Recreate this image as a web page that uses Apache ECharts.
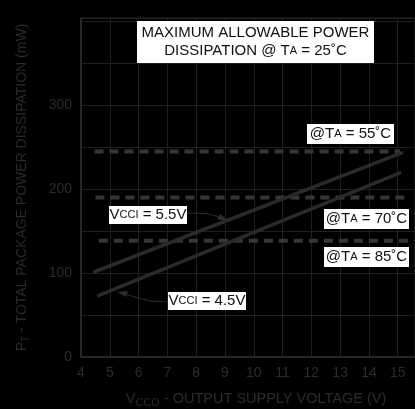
<!DOCTYPE html>
<html><head><meta charset="utf-8">
<script src="https://cdn.jsdelivr.net/npm/echarts@6/dist/echarts.min.js"></script>
<style>html,body{margin:0;padding:0;background:#000;}#c{width:415px;height:409px;}</style>
</head><body><div id="c"></div>
<script>
// Data
var xTicks = [4,5,6,7,8,9,10,11,12,13,14,15];
var yTicks = [0,100,200,300];
var vcci55X = [4.43, 15.18];
var vcci55Y = [101, 244];
var vcci45X = [4.56, 15.12];
var vcci45Y = [72.6, 220];
var ta55X = [4.47, 15.08];
var ta55Y = [245, 245];
var ta70X = [4.5, 15.36];
var ta70Y = [190, 190];
var ta85X = [4.62, 15.4];
var ta85Y = [138.5, 138.5];

function pairs(xs, ys){ return xs.map(function(x,i){return [x, ys[i]];}); }

var FONT = 'Liberation Sans, Arial, sans-serif';
var chart = echarts.init(document.getElementById('c'));
var gridCol = '#1f1f1f';
var solidCol = '#2d2926';
var dashCol = '#363636';
var txtCol = '#2c2c2c';

function box(x, y, w, h, text){
  return {
    type:'group', left:x, top:y, z:100, children:[
      {type:'rect', z:100, shape:{x:0,y:0,width:w,height:h}, style:{fill:'#fff'}},
      {type:'text', z:101, x:w/2, y:h/2, style:{text:text, rich:rich, fill:'#111', font:'15px '+FONT, align:'center', verticalAlign:'middle', textAlign:'center', textVerticalAlign:'middle'}}
    ]
  };
}
var rich = {
  n:{fontSize:15, fontFamily:FONT, color:'#111', lineHeight:18},
  s:{fontSize:11, fontFamily:FONT, color:'#111', lineHeight:18}
};

var option = {
  backgroundColor:'#000',
  animation:false,
  grid:{left:81, top:18, right:0, bottom:52, show:true, borderColor:'#2a2a2a', borderWidth:1, containLabel:false, outerBoundsMode:'none'},
  xAxis:{
    type:'value', min:4, max:15.6, interval:1,
    axisLine:{show:true, lineStyle:{color:'#2a2a2a', width:1.5}},
    axisTick:{show:false},
    splitLine:{show:true, lineStyle:{color:gridCol, width:1}},
    axisLabel:{color:txtCol, fontSize:14, fontFamily:FONT, margin:9, showMaxLabel:false,
      formatter:function(v){ return xTicks.indexOf(v)>=0 ? String(v) : ''; }},
    name:'{n|V}{s|CCO}{n| - OUTPUT SUPPLY VOLTAGE (V)}',
    nameLocation:'middle', nameGap:33,
    nameTextStyle:{padding:[0,0,0,16], rich:{
      n:{fontSize:14.5, fontFamily:FONT, color:txtCol},
      s:{fontSize:11, fontFamily:FONT, color:txtCol, padding:[7,0,0,0]}
    }}
  },
  yAxis:{
    type:'value', min:0, max:404, interval:50,
    axisLine:{show:true, lineStyle:{color:'#2a2a2a', width:1.5}},
    axisTick:{show:false},
    splitLine:{show:true, lineStyle:{color:gridCol, width:1}},
    axisLabel:{color:txtCol, fontSize:14, fontFamily:FONT, margin:9, showMaxLabel:false,
      formatter:function(v){ return yTicks.indexOf(v)>=0 ? String(v) : ''; }},
    name:'{n|P}{s|T}{n| - TOTAL PACKAGE POWER DISSIPATION (mW)}',
    nameLocation:'middle', nameGap:50,
    nameTextStyle:{rich:{
      n:{fontSize:14, fontFamily:FONT, color:'#292929'},
      s:{fontSize:10, fontFamily:FONT, color:'#292929', padding:[8,0,0,0]}
    }}
  },
  series:[
    {type:'line', data:pairs(ta55X, ta55Y), symbol:'none', lineStyle:{color:dashCol, width:4, type:[9,6]}},
    {type:'line', data:pairs(ta70X, ta70Y), symbol:'none', lineStyle:{color:dashCol, width:4, type:[9,6]}},
    {type:'line', data:pairs(ta85X, ta85Y), symbol:'none', lineStyle:{color:dashCol, width:4, type:[9,6]}},
    {type:'line', data:pairs(vcci55X, vcci55Y), symbol:'none', lineStyle:{color:solidCol, width:3.5}},
    {type:'line', data:pairs(vcci45X, vcci45Y), symbol:'none', lineStyle:{color:solidCol, width:3.5}}
  ],
  graphic:[
    box(137,21,237,42,'{n|MAXIMUM ALLOWABLE POWER}\n{n|DISSIPATION @ T}{s|A}{n| = 25˚C}'),
    box(307,124,87,20,'{n|@T}{s|A}{n| = 55˚C}'),
    box(324,209,85,20,'{n|@T}{s|A}{n| = 70˚C}'),
    box(324,247,85,20,'{n|@T}{s|A}{n| = 85˚C}'),
    box(109,206,78,18,'{n|V}{s|CCI}{n| = 5.5V}'),
    box(168,292,78,18,'{n|V}{s|CCI}{n| = 4.5V}'),
    {type:'polyline', z:90, shape:{points:[[187,213],[206,213.5],[216,216],[226,219.5]]}, style:{stroke:'#2d2d2d', lineWidth:1, fill:null}},
    {type:'polygon', z:90, shape:{points:[[229,221],[217,219.5],[220,214]]}, style:{fill:'#2d2d2d'}},
    {type:'polyline', z:90, shape:{points:[[168,302],[150,301],[135,297],[121,293]]}, style:{stroke:'#2d2d2d', lineWidth:1, fill:null}},
    {type:'polygon', z:90, shape:{points:[[117,292],[128,291],[126,297]]}, style:{fill:'#2d2d2d'}}
  ]
};
chart.setOption(option);
</script></body></html>
